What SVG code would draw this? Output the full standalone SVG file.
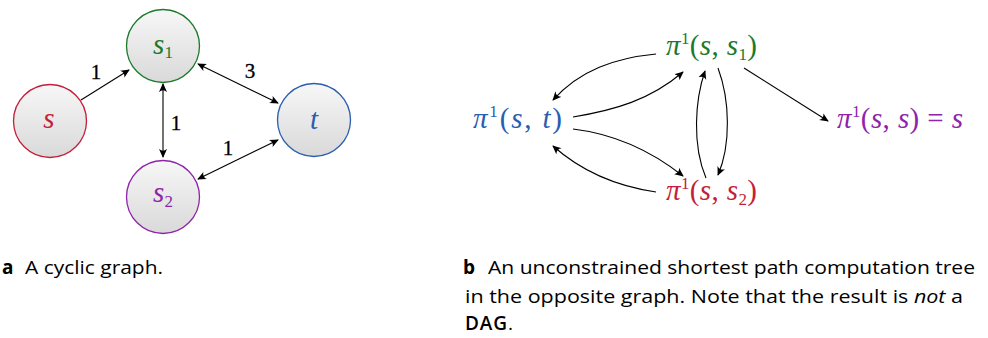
<svg xmlns="http://www.w3.org/2000/svg" width="988" height="338" viewBox="0 0 988 338">
<defs>
<linearGradient id="g" x1="0" y1="0" x2="0" y2="1">
<stop offset="0" stop-color="#f7f7f7"/>
<stop offset="1" stop-color="#d9d9d9"/>
</linearGradient>
<marker id="ah" viewBox="0 0 10 10" refX="9" refY="5" markerWidth="9" markerHeight="9" markerUnits="userSpaceOnUse" orient="auto-start-reverse">
<path d="M0,0.5 Q4,5 0,9.5 L10,5 Z" fill="#000"/>
</marker>
</defs>
<style>
.node{fill:url(#g);stroke-width:1.3}
.m{font-family:"Liberation Serif","DejaVu Serif",serif;font-style:italic}
.up{font-style:normal}
.lab{font-family:"Liberation Serif","DejaVu Serif",serif;font-size:21px;fill:#000;stroke:#000;stroke-width:0.3}
.e{fill:none;stroke:#000;stroke-width:1.1}
.cap{font-family:"Open Sans",Lato,sans-serif;font-size:19px;fill:#000}
</style>
<rect width="988" height="338" fill="#fff"/>
<g id="node-s">
<circle class="node" cx="50" cy="121" r="36.5" stroke="#c41e3a"/>
<text class="m" x="49" y="128" font-size="29" fill="#c41e3a" text-anchor="middle">s</text>
</g>
<g id="node-s1">
<circle class="node" cx="163" cy="46" r="36.5" stroke="#1b7a2a"/>
<text class="m" x="163" y="54" font-size="29" fill="#1b7a2a" text-anchor="middle">s<tspan class="up" font-size="17" dy="4">1</tspan></text>
</g>
<g id="node-t">
<circle class="node" cx="314" cy="120" r="36.5" stroke="#2a5db0"/>
<text class="m" x="314" y="129" font-size="29" fill="#2a5db0" text-anchor="middle">t</text>
</g>
<g id="node-s2">
<circle class="node" cx="163" cy="197" r="36.5" stroke="#8e24aa"/>
<text class="m" x="163" y="202" font-size="29" fill="#8e24aa" text-anchor="middle">s<tspan class="up" font-size="17" dy="5">2</tspan></text>
</g>
<g id="node-pst">
<text class="m" x="473" y="128" font-size="29" fill="#2a5db0" textLength="89" lengthAdjust="spacing">π<tspan class="up" font-size="17" dy="-11">1</tspan><tspan class="up" dy="11">(</tspan>s<tspan class="up">, </tspan>t<tspan class="up">)</tspan></text>
</g>
<g id="node-pss1">
<text class="m" x="666" y="55" font-size="29" fill="#1b7a2a" textLength="91" lengthAdjust="spacing">π<tspan class="up" font-size="17" dy="-11">1</tspan><tspan class="up" dy="11">(</tspan>s<tspan class="up">, </tspan>s<tspan class="up" font-size="17" dy="5">1</tspan><tspan class="up" dy="-5">)</tspan></text>
</g>
<g id="node-pss2">
<text class="m" x="666" y="200" font-size="29" fill="#c41e3a" textLength="91" lengthAdjust="spacing">π<tspan class="up" font-size="17" dy="-11">1</tspan><tspan class="up" dy="11">(</tspan>s<tspan class="up">, </tspan>s<tspan class="up" font-size="17" dy="5">2</tspan><tspan class="up" dy="-5">)</tspan></text>
</g>
<g id="node-pss">
<text class="m" x="837" y="128" font-size="29" fill="#8e24aa" textLength="126" lengthAdjust="spacing">π<tspan class="up" font-size="17" dy="-11">1</tspan><tspan class="up" dy="11">(</tspan>s<tspan class="up">, </tspan>s<tspan class="up">) = </tspan>s</text>
</g>
<g id="connectors">
<path class="e" d="M81,100 L129,70" marker-end="url(#ah)"/>
<path class="e" d="M198,64 L278,103" marker-start="url(#ah)" marker-end="url(#ah)"/>
<path class="e" d="M163,84 L163,157" marker-start="url(#ah)" marker-end="url(#ah)"/>
<path class="e" d="M198,179 L278,140" marker-start="url(#ah)" marker-end="url(#ah)"/>
<text class="lab" x="96" y="79" text-anchor="middle">1</text>
<text class="lab" x="250" y="78" text-anchor="middle">3</text>
<text class="lab" x="176" y="130" text-anchor="middle">1</text>
<text class="lab" x="228" y="155" text-anchor="middle">1</text>
<path class="e" d="M656,54 C615,58 580,70 553,100" marker-end="url(#ah)"/>
<path class="e" d="M573,117 C615,110 650,100 683,72" marker-end="url(#ah)"/>
<path class="e" d="M573,129 C615,134 650,150 683,176" marker-end="url(#ah)"/>
<path class="e" d="M656,192 C615,186 580,170 553,146" marker-end="url(#ah)"/>
<path class="e" d="M706,178 C692,145 695,100 705,71" marker-end="url(#ah)"/>
<path class="e" d="M718,68 C730,100 731,145 718,175" marker-end="url(#ah)"/>
<path class="e" d="M744,68 L828,121" marker-end="url(#ah)"/>
</g>
<g id="captions">
<text class="cap" x="2" y="274" font-weight="bold">a</text>
<text class="cap" x="25" y="274" textLength="138" lengthAdjust="spacingAndGlyphs">A cyclic graph.</text>
<text class="cap" x="463" y="274" font-weight="bold">b</text>
<text class="cap" x="488" y="274" textLength="487" lengthAdjust="spacingAndGlyphs">An unconstrained shortest path computation tree</text>
<text class="cap" x="465" y="303" textLength="498" lengthAdjust="spacingAndGlyphs">in the opposite graph. Note that the result is <tspan font-style="italic">not</tspan> a</text>
<text class="cap" x="465" y="330" fill="#1a237e" font-size="14" font-weight="600" letter-spacing="0.9">DAG<tspan fill="#000" font-weight="normal" font-size="19">.</tspan></text>
</g>
</svg>
